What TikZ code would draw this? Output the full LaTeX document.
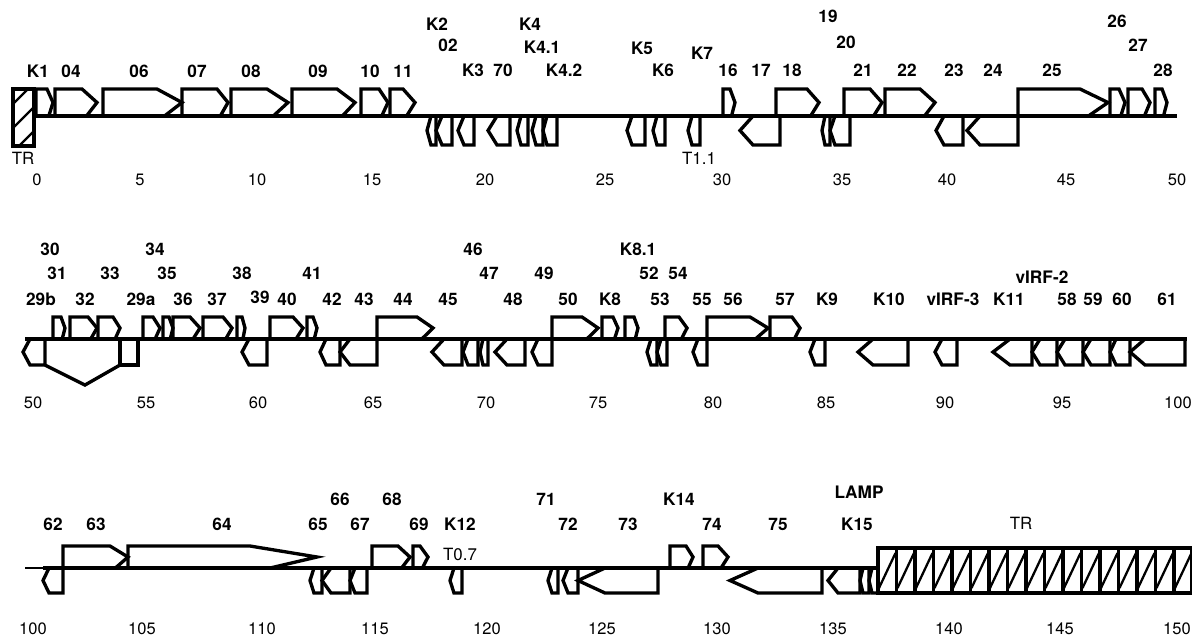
\documentclass[tikz,border=0pt]{standalone}
\usepackage{fontspec}
\setmainfont{TeX Gyre Heros}
\tikzset{
  every picture/.style={line join=miter, line cap=butt},
  gene/.style={line width=1.9pt},
  genome/.style={line width=1.9pt},
  hatchline/.style={line width=1.3pt},
  glabel/.style={font=\fontsize{9.8}{11}\selectfont\bfseries, inner sep=0pt},
  kb/.style={font=\fontsize{9.4}{11}\selectfont, inner sep=0pt},
  tlabel/.style={font=\fontsize{9.6}{11}\selectfont, inner sep=0pt},
}
% genes: start, end, head length; \ybase, \hup and \hdn are set per row
\newcommand{\fwdgene}[3]{\draw[gene] (#1,\ybase) -- (#1,\ybase-\hup) -- (#2-#3,\ybase-\hup) -- (#2,\ybase-0.5*\hup) -- (#2-0.7*#3,\ybase) -- cycle;}
\newcommand{\revgene}[3]{\draw[gene] (#2,\ybase) -- (#2,\ybase+\hdn) -- (#1+#3,\ybase+\hdn) -- (#1,\ybase+0.5*\hdn) -- (#1+#3,\ybase) -- cycle;}
\begin{document}
\begin{tikzpicture}[x={(0.02cm,0)}, y={(0,-0.02cm)}]
\useasboundingbox (0,0) rectangle (1192,637);

% row 1: 0-50 kb
\def\ybase{116}\def\hup{27}\def\hdn{29}
\draw[gene] (13,89) rectangle (34,146);
\begin{scope}
\clip (13,89) rectangle (34,146);
\foreach \y in {104,128,152} \draw[hatchline] (13,\y) -- (34,\y-21);
\end{scope}
\draw[genome] (34,116) -- (1177,116);
\foreach \a/\b/\h in {36/53/6, 55/97/15, 103/182/25, 182/228/11, 231/288/21, 292/355/18, 361/388/9, 390/415/12, 723/735/5, 776/819/12, 844/882/12, 885/935/15, 1018/1108/28, 1110/1125/6, 1128/1150/8, 1155/1167/5}
  {\fwdgene{\a}{\b}{\h}}
\foreach \a/\b/\h in {427/436/4, 436/452/6, 458/474/6, 488/510/9, 517/528/4, 532/543/4, 543/557/4, 627/645/5, 653/665/4, 688/700/4, 740/780/13, 822/830/3, 830/850/5, 936/963/8, 967/1018/13}
  {\revgene{\a}{\b}{\h}}
\foreach \x/\y/\t [count=\i] in {38/71/K1, 71/71/04, 139/71/06, 197/71/07, 251/71/08, 318/71/09, 370/71/10, 403/71/11, 437/24/K2, 448/45/02, 473/70/K3, 503/70/70, 530/24/K4, 542/47/K4.1, 564/70/K4.2, 642/48/K5, 663/70/K6, 702/53/K7, 728/70/16, 761/70/17, 792/70/18, 828/16/19, 846/42/20, 863/70/21, 907/70/22, 954/70/23, 993/70/24, 1052/70/25, 1117/21/26, 1138/45/27, 1163/70/28}
  \node[glabel] (ga\i) at (\x,\y) {\t};
\node[tlabel] (trleft) at (23,158) {TR};
\node[tlabel] (t11) at (699,158) {T1.1};
\foreach \x/\t [count=\i] in {37/0, 140/5, 257/10, 372/15, 485/20, 605/25, 722/30, 842/35, 947/40, 1066/45, 1177/50}
  \node[kb] (ka\i) at (\x,180) {\t};

% row 2: 50-100 kb
\def\ybase{339}\def\hup{22}\def\hdn{26}
\draw[genome] (25,339) -- (1187,339);
\foreach \a/\b/\h in {53/65/4, 70/97/9, 98/120/7, 143/160/7, 163/173/4, 173/200/10, 203/232/9, 237/245/3, 270/303/10, 307/317/4, 377/433/16, 552/598/16, 602/618/5, 625/638/4, 665/687/8, 707/768/18, 770/800/8}
  {\fwdgene{\a}{\b}{\h}}
\foreach \a/\b/\h in {23/45/7, 242/267/7, 320/340/6, 340/377/10, 432/462/12, 463/478/5, 480/488/3, 495/525/12, 532/552/6, 647/657/4, 657/667/4, 693/707/5, 810/825/5, 858/908/15, 935/957/7, 993/1032/17, 1032/1057/8, 1057/1083/8, 1083/1110/8, 1110/1130/6, 1130/1185/15}
  {\revgene{\a}{\b}{\h}}
\draw[gene] (120,339) rectangle (138,365);
\draw[gene] (45,365) -- (85,385) -- (120,365);
\foreach \x/\y/\t [count=\i] in {50/249/30, 57/273/31, 41/299/29b, 85/299/32, 110/273/33, 141/299/29a, 155/249/34, 167/273/35, 183/299/36, 217/299/37, 242/273/38, 260/297/39, 287/299/40, 312/273/41, 332/299/42, 364/299/43, 403/299/44, 448/299/45, 473/249/46, 489/273/47, 513/299/48, 544/273/49, 568/299/50, 610/299/K8, 638/249/K8.1, 649/273/52, 678/273/54, 660/299/53, 702/299/55, 733/299/56, 785/299/57, 827/299/K9, 889/299/K10, 953/299/vIRF-3, 1009/299/K11, 1042/277/vIRF-2, 1067/299/58, 1093/299/59, 1122/299/60, 1167/299/61}
  \node[glabel] (gb\i) at (\x,\y) {\t};
\foreach \x/\t [count=\i] in {33/50, 146/55, 258/60, 373/65, 486/70, 598/75, 713/80, 826/85, 945/90, 1062/95, 1178/100}
  \node[kb] (kb\i) at (\x,403) {\t};

% row 3: 100-150 kb
\def\ybase{568}\def\hup{22}\def\hdn{25}
\draw[line width=1pt] (25,568) -- (43,568);
\draw[genome] (43,568) -- (878,568);
\foreach \a/\b/\h in {63/128/18, 128/317/67, 372/410/12, 413/428/8, 670/693/7, 703/728/10}
  {\fwdgene{\a}{\b}{\h}}
\foreach \a/\b/\h in {43/63/6, 310/322/4, 322/350/9, 350/367/5, 450/462/4, 548/558/4, 563/578/5, 578/658/27, 730/822/28, 828/860/10, 860/869/3, 869/878/3}
  {\revgene{\a}{\b}{\h}}
\draw[gene] (878,548) rectangle (1192,593);
\foreach \i in {1,...,16} \draw[gene] (878+\i*18.5,548) -- (878+\i*18.5,593);
\foreach \i in {0,...,16} \draw[hatchline] (878+\i*18.5+1,588) -- (878+\i*18.5+17.5,553);
\foreach \x/\y/\t [count=\i] in {53/524/62, 96/524/63, 222/524/64, 318/524/65, 340/499/66, 360/524/67, 392/499/68, 419/524/69, 460/524/K12, 546/499/71, 568/524/72, 628/524/73, 679/499/K14, 712/524/74, 778/524/75, 857/524/K15, 859/492/LAMP}
  \node[glabel] (gc\i) at (\x,\y) {\t};
\node[tlabel] (t07) at (460,554) {T0.7};
\node[tlabel] (trright) at (1021,523) {TR};
\foreach \x/\t [count=\i] in {33/100, 142/105, 262/110, 375/115, 487/120, 602/125, 717/130, 833/135, 949/140, 1060/145, 1177/150}
  \node[kb] (kc\i) at (\x,629) {\t};
\end{tikzpicture}
\end{document}
